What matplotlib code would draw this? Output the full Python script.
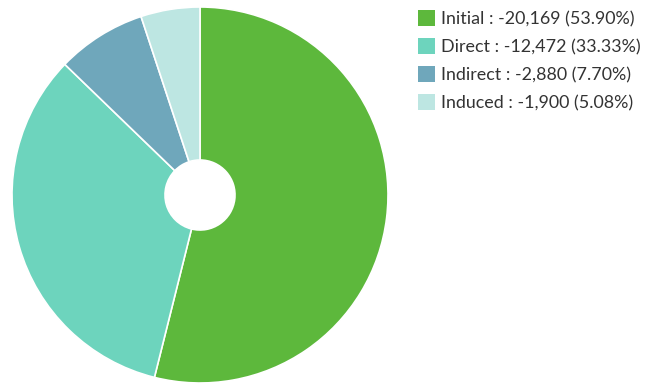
import matplotlib.pyplot as plt
from matplotlib.patches import Patch

plt.rcParams['font.family'] = ['Lato', 'DejaVu Sans']

categories = ['Initial', 'Direct', 'Indirect', 'Induced']
values = [-20169, -12472, -2880, -1900]
colors = ['#5db83c', '#6dd4bd', '#6fa7bb', '#bde6e2']

total = sum(abs(v) for v in values)
sizes = [abs(v) for v in values]

fig = plt.figure(figsize=(6.54, 3.85), dpi=100)

# pie axes placed in pixels: centre (200,195), radius 188
cx, cy, r = 200, 195, 188
W, H = 654, 385
ax = fig.add_axes([(cx - r) / W, (H - cy - r) / H, 2 * r / W, 2 * r / H])
ax.pie(sizes, colors=colors, startangle=90, counterclock=False,
       wedgeprops=dict(width=1 - 35 / 188, edgecolor='white', linewidth=1.2))
ax.set_xlim(-1, 1)
ax.set_ylim(-1, 1)
ax.set_aspect('equal')
ax.axis('off')

labels = ['%s : %s (%.2f%%)' % (c, format(v, ','), abs(v) / total * 100)
          for c, v in zip(categories, values)]
handles = [Patch(facecolor=c, edgecolor='none') for c in colors]
fig.legend(handles, labels, loc='upper left', bbox_to_anchor=(411 / W, 1 - 3 / H),
           frameon=False, fontsize=12.9, handlelength=0.95, handleheight=0.95,
           handletextpad=0.35, labelspacing=0.62, labelcolor='#333333',
           borderaxespad=0)

fig.savefig('out.png', dpi=100)
